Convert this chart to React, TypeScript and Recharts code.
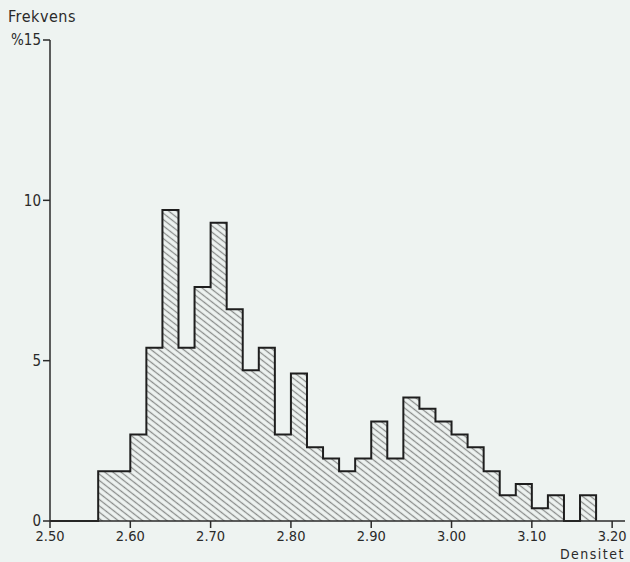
import { Area, AreaChart, XAxis, YAxis } from "recharts";

// Bin starts (width 0.02) and relative frequency in %
const binStarts = [
  2.56, 2.58, 2.6, 2.62, 2.64, 2.66, 2.68, 2.7, 2.72, 2.74, 2.76, 2.78, 2.8, 2.82, 2.84, 2.86,
  2.88, 2.9, 2.92, 2.94, 2.96, 2.98, 3.0, 3.02, 3.04, 3.06, 3.08, 3.1, 3.12, 3.14, 3.16,
];
const frequency = [
  1.55, 1.55, 2.7, 5.4, 9.7, 5.4, 7.3, 9.3, 6.6, 4.7, 5.4, 2.7, 4.6, 2.3, 1.95, 1.55,
  1.95, 3.1, 1.95, 3.85, 3.5, 3.1, 2.7, 2.3, 1.55, 0.8, 1.15, 0.4, 0.8, 0, 0.8,
];
const xTicks = [2.5, 2.6, 2.7, 2.8, 2.9, 3.0, 3.1, 3.2];
const yTicks = [0, 5, 10, 15];

const binWidth = 0.02;

// step table: start at the axis, one point per bin, close at the last edge
const table = [
  { x: 2.5, f: 0 },
  ...binStarts.map((x, i) => ({ x, f: frequency[i] })),
  { x: binStarts[binStarts.length - 1] + binWidth, f: 0 },
];

const font = "'DejaVu Sans Condensed', 'Liberation Sans Narrow', 'DejaVu Sans', sans-serif";
const ink = "#2a2a2a";

export default function App() {
  return (
    <div
      style={{
        position: "absolute",
        left: 0,
        top: 0,
        width: 630,
        height: 562,
        background: "#eef3f1",
        fontFamily: font,
        color: ink,
      }}
    >
      <AreaChart width={630} height={562} data={table} margin={{ top: 40, right: 5, left: 0, bottom: 0 }}>
        <defs>
          <pattern id="hatch" patternUnits="userSpaceOnUse" width="5" height="5" patternTransform="rotate(38)">
            <line x1="0" y1="2.5" x2="5" y2="2.5" stroke="#8a8d8b" strokeWidth="1.3" />
          </pattern>
        </defs>
        <XAxis
          type="number"
          dataKey="x"
          domain={[2.5, 3.216]}
          allowDataOverflow
          ticks={xTicks}
          tickFormatter={(v: number) => v.toFixed(2)}
          height={41}
          tickSize={7}
          tickMargin={3}
          axisLine={{ stroke: ink, strokeWidth: 1.5 }}
          tickLine={{ stroke: ink, strokeWidth: 1.5 }}
          tick={{ fill: ink, fontSize: 14.5, fontFamily: font }}
        />
        <YAxis
          type="number"
          domain={[0, 15]}
          ticks={yTicks}
          width={50}
          tickSize={7}
          tickMargin={2}
          tickFormatter={(v: number) => (v === 15 ? "%15" : String(v))}
          axisLine={{ stroke: ink, strokeWidth: 1.5 }}
          tickLine={{ stroke: ink, strokeWidth: 1.5 }}
          tick={{ fill: ink, fontSize: 15, fontFamily: font }}
        />
        <Area
          type="stepAfter"
          dataKey="f"
          baseValue={0}
          stroke="#1e1e1e"
          strokeWidth={2}
          fill="url(#hatch)"
          fillOpacity={1}
          dot={false}
          activeDot={false}
          isAnimationActive={false}
        />
      </AreaChart>
      <div style={{ position: "absolute", left: 8, top: 7, fontSize: 16, letterSpacing: 0.5 }}>Frekvens</div>
      <div
        style={{ position: "absolute", right: 5, top: 547, fontSize: 14, lineHeight: "15px", letterSpacing: 1.5 }}
      >
        Densitet
      </div>
    </div>
  );
}
